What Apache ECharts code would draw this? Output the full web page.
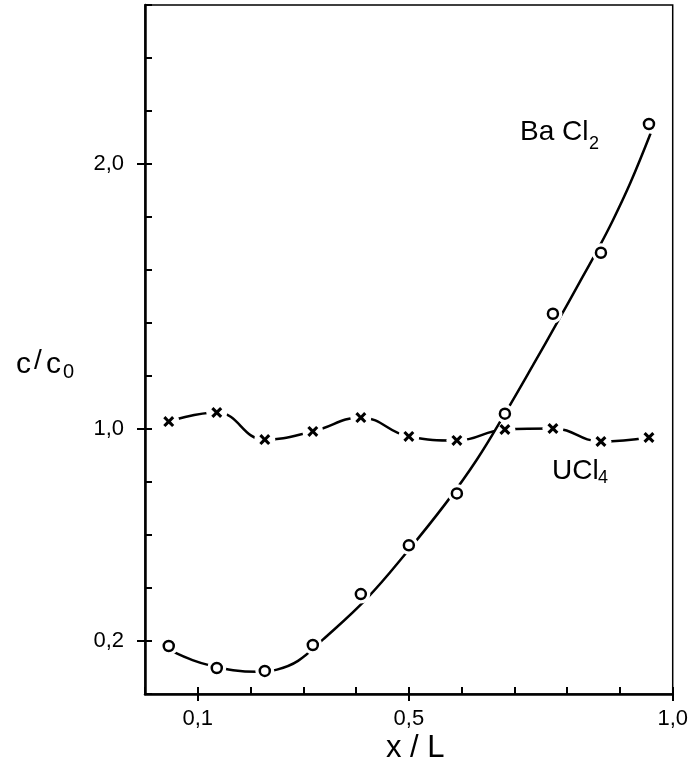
<!DOCTYPE html>
<html>
<head>
<meta charset="utf-8">
<script src="https://cdn.jsdelivr.net/npm/echarts@6/dist/echarts.min.js"></script>
<style>
  html, body { margin: 0; padding: 0; background: #fff; }
  #chart { width: 691px; height: 770px; }
</style>
</head>
<body>
<div id="chart"></div>
<script>
// Measuring positions along the cell, x / L
const positions = [0.045, 0.136, 0.227, 0.318, 0.409, 0.5, 0.591, 0.682, 0.773, 0.864, 0.955];
// Measured relative concentrations c / c0
const bacl2 = [0.181, 0.098, 0.087, 0.185, 0.377, 0.561, 0.757, 1.058, 1.435, 1.665, 2.151];
const ucl4 = [1.028, 1.062, 0.960, 0.991, 1.043, 0.972, 0.957, 0.998, 1.002, 0.953, 0.968];
// Hand-drawn trend curve for BaCl2 (x / L and c / c0 along the curve)
const bacl2CurveX = [0.053, 0.09, 0.123, 0.167, 0.212, 0.25, 0.29, 0.337, 0.42, 0.496, 0.572, 0.629, 0.682, 0.735, 0.782, 0.824, 0.856, 0.886, 0.92, 0.958];
const bacl2CurveY = [0.160, 0.128, 0.108, 0.090, 0.084, 0.092, 0.125, 0.205, 0.360, 0.535, 0.725, 0.885, 1.058, 1.240, 1.405, 1.555, 1.670, 1.785, 1.930, 2.115];
// Labelled ticks
const xTickLabels = [0.1, 0.5, 1.0];
const yTickLabels = [0.2, 1.0, 2.0];

const FONT = 'Liberation Sans, Arial, sans-serif';
const pairs = (xs, ys) => xs.map((x, i) => [x, ys[i]]);
const crossPath = 'path://M0,2L2,0L5,3L8,0L10,2L7,5L10,8L8,10L5,7L2,10L0,8L3,5Z';
const comma = v => Number(v).toFixed(1).replace('.', ',');

const chart = echarts.init(document.getElementById('chart'), null, { renderer: 'canvas' });

const text = (left, top, str, size) => ({
  type: 'text', left, top, silent: true,
  style: { text: str, font: size + 'px ' + FONT, fill: '#000' }
});

chart.setOption({
  animation: false,
  backgroundColor: '#fff',
  grid: {
    left: 145, right: 18, top: 5, bottom: 76,
    show: true, borderColor: '#000', borderWidth: 1.5, backgroundColor: 'transparent'
  },
  xAxis: [
    {
      type: 'value', min: 0, max: 1, interval: 0.1,
      axisLine: { show: true, onZero: false, lineStyle: { color: '#000', width: 2.5 } },
      axisTick: { show: true, inside: true, length: 7, lineStyle: { color: '#000', width: 2 } },
      axisLabel: {
        show: true, customValues: xTickLabels, formatter: comma, margin: 14,
        color: '#000', fontSize: 22, fontFamily: FONT
      },
      splitLine: { show: false }
    },
    {
      type: 'value', min: 0, max: 1, position: 'bottom',
      axisLine: { show: false },
      axisTick: { show: true, inside: false, length: 7, customValues: xTickLabels, lineStyle: { color: '#000', width: 2 } },
      axisLabel: { show: false },
      splitLine: { show: false }
    }
  ],
  yAxis: [
    {
      type: 'value', min: 0, max: 2.6, interval: 0.2,
      axisLine: { show: true, onZero: false, lineStyle: { color: '#000', width: 2.5 } },
      axisTick: { show: true, inside: true, length: 7, lineStyle: { color: '#000', width: 2 } },
      axisLabel: {
        show: true, customValues: yTickLabels, formatter: comma, margin: 21,
        color: '#000', fontSize: 22, fontFamily: FONT
      },
      splitLine: { show: false }
    },
    {
      type: 'value', min: 0, max: 2.6, position: 'left',
      axisLine: { show: false },
      axisTick: { show: true, inside: false, length: 8, customValues: yTickLabels, lineStyle: { color: '#000', width: 2 } },
      axisLabel: { show: false },
      splitLine: { show: false }
    }
  ],
  series: [
    {
      name: 'UCl4', type: 'line', data: pairs(positions, ucl4), smooth: 0.45, z: 2,
      showSymbol: false, silent: true,
      lineStyle: { color: '#000', width: 2.5 }
    },
    {
      name: 'UCl4 gaps', type: 'scatter', data: pairs(positions, ucl4), z: 10, silent: true,
      symbol: 'circle', symbolSize: 21, itemStyle: { color: '#fff', opacity: 1 }
    },
    {
      name: 'BaCl2', type: 'line', data: pairs(bacl2CurveX, bacl2CurveY), smooth: 0.4, z: 20,
      showSymbol: false, silent: true,
      lineStyle: { color: '#000', width: 2.5 }
    },
    {
      name: 'BaCl2 gaps', type: 'scatter', data: pairs(positions, bacl2), z: 30, silent: true,
      symbol: 'circle', symbolSize: 19, itemStyle: { color: '#fff', opacity: 1 }
    },
    {
      name: 'BaCl2 points', type: 'scatter', data: pairs(positions, bacl2), z: 40, silent: true,
      symbol: 'circle', symbolSize: 10,
      itemStyle: { color: '#fff', borderColor: '#000', borderWidth: 2.5, opacity: 1 }
    },
    {
      name: 'UCl4 points', type: 'scatter', data: pairs(positions, ucl4), z: 50, silent: true,
      symbol: crossPath, symbolSize: 11,
      itemStyle: { color: '#000', opacity: 1 }
    }
  ],
  graphic: [
    text(16, 350, 'c', 30),
    text(34, 347, '/', 28),
    text(46, 350, 'c', 30),
    text(63, 362, '0', 20),
    text(386, 733, 'x / L', 31),
    text(520, 118, 'Ba Cl', 28),
    text(589, 135, '2', 18),
    text(552, 457, 'UCl', 28),
    text(598, 469, '4', 18)
  ]
});
</script>
</body>
</html>
